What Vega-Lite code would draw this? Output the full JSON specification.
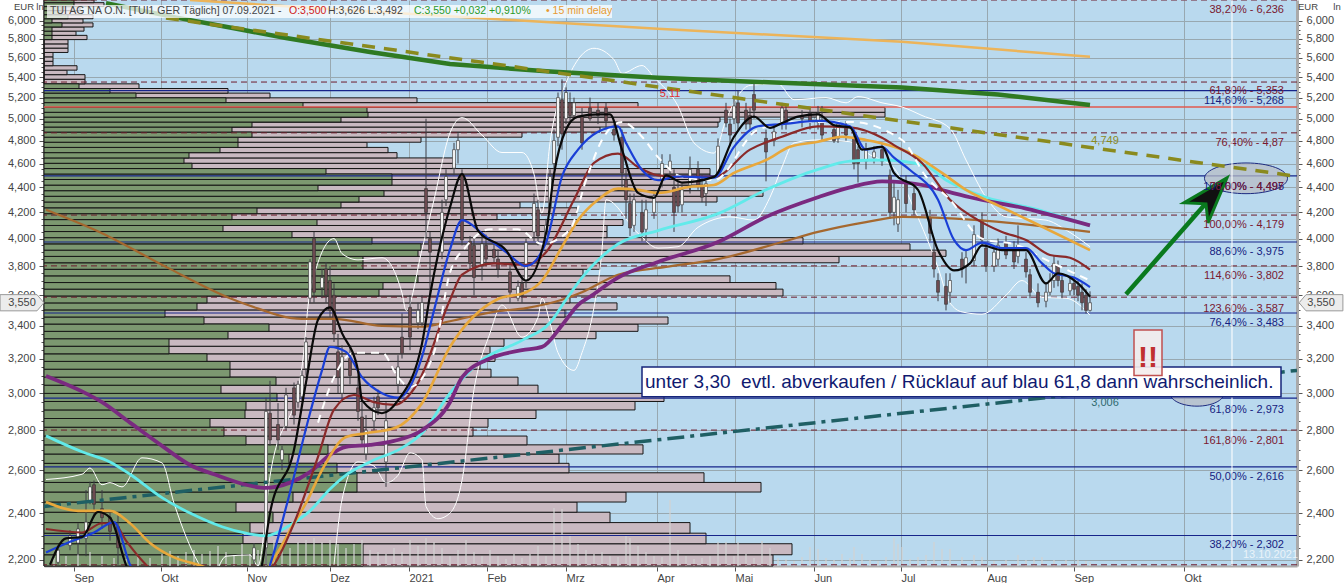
{"$schema":"https://vega.github.io/schema/vega-lite/v6.json","width":1253,"height":566,"autosize":{"type":"none"},"padding":{"left":44,"top":0,"right":47,"bottom":17},"background":"white","view":{"fill":"#b9d9ee","stroke":null},
"config":{"text":{"font":"Liberation Sans"},"axis":{"labelFont":"Liberation Sans"}},
"datasets":{
"profile":[{"lo":2.175,"hi":2.221,"up":319,"tot":729},{"lo":2.221,"hi":2.267,"up":319,"tot":748},{"lo":2.267,"hi":2.312,"up":199,"tot":662},{"lo":2.312,"hi":2.358,"up":206,"tot":646},{"lo":2.358,"hi":2.404,"up":229,"tot":566},{"lo":2.404,"hi":2.45,"up":192,"tot":533},{"lo":2.45,"hi":2.496,"up":249,"tot":582},{"lo":2.496,"hi":2.541,"up":313,"tot":717},{"lo":2.541,"hi":2.587,"up":313,"tot":660},{"lo":2.587,"hi":2.633,"up":293,"tot":525},{"lo":2.633,"hi":2.679,"up":245,"tot":515},{"lo":2.679,"hi":2.725,"up":284,"tot":599},{"lo":2.725,"hi":2.77,"up":202,"tot":483},{"lo":2.77,"hi":2.816,"up":180,"tot":429},{"lo":2.816,"hi":2.862,"up":166,"tot":444},{"lo":2.862,"hi":2.908,"up":201,"tot":492},{"lo":2.908,"hi":2.954,"up":202,"tot":591},{"lo":2.954,"hi":2.999,"up":233,"tot":620},{"lo":2.999,"hi":3.045,"up":177,"tot":494},{"lo":3.045,"hi":3.091,"up":232,"tot":474},{"lo":3.091,"hi":3.137,"up":186,"tot":447},{"lo":3.137,"hi":3.183,"up":186,"tot":436},{"lo":3.183,"hi":3.228,"up":163,"tot":451},{"lo":3.228,"hi":3.274,"up":125,"tot":446},{"lo":3.274,"hi":3.32,"up":125,"tot":460},{"lo":3.32,"hi":3.366,"up":184,"tot":552},{"lo":3.366,"hi":3.412,"up":225,"tot":594},{"lo":3.412,"hi":3.457,"up":160,"tot":624},{"lo":3.457,"hi":3.503,"up":121,"tot":521},{"lo":3.503,"hi":3.549,"up":153,"tot":573},{"lo":3.549,"hi":3.595,"up":163,"tot":526},{"lo":3.595,"hi":3.641,"up":335,"tot":739},{"lo":3.641,"hi":3.686,"up":339,"tot":732},{"lo":3.686,"hi":3.732,"up":374,"tot":686},{"lo":3.732,"hi":3.778,"up":283,"tot":539},{"lo":3.778,"hi":3.824,"up":319,"tot":556},{"lo":3.824,"hi":3.87,"up":319,"tot":795},{"lo":3.87,"hi":3.915,"up":374,"tot":902},{"lo":3.915,"hi":3.961,"up":377,"tot":866},{"lo":3.961,"hi":4.007,"up":328,"tot":759},{"lo":4.007,"hi":4.053,"up":248,"tot":563},{"lo":4.053,"hi":4.099,"up":179,"tot":563},{"lo":4.099,"hi":4.144,"up":273,"tot":579},{"lo":4.144,"hi":4.19,"up":188,"tot":453},{"lo":4.19,"hi":4.236,"up":213,"tot":533},{"lo":4.236,"hi":4.282,"up":297,"tot":476},{"lo":4.282,"hi":4.328,"up":315,"tot":673},{"lo":4.328,"hi":4.373,"up":340,"tot":719},{"lo":4.373,"hi":4.419,"up":274,"tot":646},{"lo":4.419,"hi":4.465,"up":348,"tot":656},{"lo":4.465,"hi":4.511,"up":348,"tot":666},{"lo":4.511,"hi":4.557,"up":282,"tot":666},{"lo":4.557,"hi":4.602,"up":148,"tot":411},{"lo":4.602,"hi":4.648,"up":140,"tot":410},{"lo":4.648,"hi":4.694,"up":145,"tot":353},{"lo":4.694,"hi":4.74,"up":176,"tot":344},{"lo":4.74,"hi":4.786,"up":194,"tot":323},{"lo":4.786,"hi":4.831,"up":194,"tot":377},{"lo":4.831,"hi":4.877,"up":208,"tot":478},{"lo":4.877,"hi":4.923,"up":188,"tot":556},{"lo":4.923,"hi":4.969,"up":208,"tot":674},{"lo":4.969,"hi":5.015,"up":297,"tot":676},{"lo":5.015,"hi":5.06,"up":324,"tot":841},{"lo":5.06,"hi":5.106,"up":323,"tot":841},{"lo":5.106,"hi":5.152,"up":259,"tot":594},{"lo":5.152,"hi":5.198,"up":182,"tot":373},{"lo":5.198,"hi":5.244,"up":92,"tot":226},{"lo":5.244,"hi":5.289,"up":66,"tot":184},{"lo":5.289,"hi":5.335,"up":35,"tot":95},{"lo":5.335,"hi":5.381,"up":0,"tot":41},{"lo":5.381,"hi":5.427,"up":0,"tot":41},{"lo":5.427,"hi":5.473,"up":0,"tot":23},{"lo":5.473,"hi":5.518,"up":0,"tot":33},{"lo":5.518,"hi":5.564,"up":0,"tot":9},{"lo":5.564,"hi":5.61,"up":0,"tot":9},{"lo":5.61,"hi":5.656,"up":0,"tot":9},{"lo":5.656,"hi":5.702,"up":0,"tot":24},{"lo":5.702,"hi":5.747,"up":0,"tot":24},{"lo":5.747,"hi":5.793,"up":0,"tot":24},{"lo":5.793,"hi":5.839,"up":8,"tot":43},{"lo":5.839,"hi":5.885,"up":8,"tot":32},{"lo":5.885,"hi":5.931,"up":8,"tot":40},{"lo":5.931,"hi":5.976,"up":18,"tot":49},{"lo":5.976,"hi":6.022,"up":8,"tot":39},{"lo":6.022,"hi":6.068,"up":24,"tot":49},{"lo":6.068,"hi":6.114,"up":18,"tot":38},{"lo":6.114,"hi":6.16,"up":18,"tot":36},{"lo":6.16,"hi":6.205,"up":30,"tot":60},{"lo":6.205,"hi":6.236,"up":30,"tot":50}],
"volume":[{"n":2,"v":8},{"n":5,"v":10},{"n":8,"v":12},{"n":11,"v":14},{"n":14,"v":10},{"n":17,"v":8},{"n":20,"v":7},{"n":23,"v":9},{"n":26,"v":8},{"n":29,"v":12},{"n":31,"v":15},{"n":33,"v":10},{"n":35,"v":14},{"n":37,"v":16},{"n":39,"v":12},{"n":41,"v":15},{"n":43,"v":20},{"n":45,"v":14},{"n":47,"v":11},{"n":49,"v":22},{"n":51,"v":12},{"n":53,"v":16},{"n":55,"v":28},{"n":57,"v":26},{"n":59,"v":22},{"n":61,"v":18},{"n":63,"v":24},{"n":65,"v":26},{"n":67,"v":28},{"n":69,"v":24},{"n":71,"v":26},{"n":73,"v":22},{"n":75,"v":18},{"n":77,"v":22},{"n":79,"v":26},{"n":81,"v":16},{"n":83,"v":14},{"n":85,"v":12},{"n":87,"v":18},{"n":89,"v":14},{"n":91,"v":26},{"n":93,"v":20},{"n":95,"v":28},{"n":97,"v":24},{"n":99,"v":18},{"n":101,"v":10},{"n":103,"v":16},{"n":105,"v":26},{"n":107,"v":14},{"n":109,"v":10},{"n":111,"v":16},{"n":113,"v":10},{"n":115,"v":7},{"n":117,"v":12},{"n":119,"v":8},{"n":121,"v":12},{"n":123,"v":20},{"n":125,"v":10},{"n":127,"v":58},{"n":129,"v":57},{"n":131,"v":30},{"n":133,"v":22},{"n":135,"v":16},{"n":137,"v":12},{"n":139,"v":14},{"n":141,"v":10},{"n":143,"v":9},{"n":145,"v":30},{"n":146,"v":28},{"n":148,"v":20},{"n":150,"v":14},{"n":152,"v":10},{"n":154,"v":9},{"n":156,"v":66},{"n":158,"v":16},{"n":160,"v":10},{"n":162,"v":7},{"n":164,"v":8},{"n":166,"v":10},{"n":168,"v":24},{"n":170,"v":24},{"n":172,"v":10},{"n":173,"v":24},{"n":175,"v":12},{"n":177,"v":8},{"n":179,"v":25},{"n":181,"v":18},{"n":183,"v":8},{"n":185,"v":7},{"n":187,"v":5},{"n":189,"v":9},{"n":191,"v":19},{"n":193,"v":17},{"n":195,"v":8},{"n":197,"v":6},{"n":199,"v":12},{"n":201,"v":8},{"n":202,"v":19},{"n":204,"v":12},{"n":206,"v":6},{"n":208,"v":5},{"n":210,"v":9},{"n":212,"v":28},{"n":213,"v":22},{"n":214,"v":19},{"n":216,"v":7},{"n":218,"v":9},{"n":220,"v":11},{"n":222,"v":24},{"n":224,"v":17},{"n":226,"v":17},{"n":229,"v":9},{"n":232,"v":11},{"n":234,"v":9},{"n":237,"v":5},{"n":240,"v":6},{"n":243,"v":11},{"n":245,"v":6},{"n":247,"v":9},{"n":249,"v":9},{"n":252,"v":6},{"n":255,"v":6},{"n":258,"v":6},{"n":260,"v":5},{"n":261,"v":4}],
"candles":[{"n":3,"o":2.19,"h":2.26,"l":2.18,"c":2.24},{"n":6,"o":2.26,"h":2.325,"l":2.24,"c":2.3},{"n":8,"o":2.27,"h":2.355,"l":2.22,"c":2.33},{"n":10,"o":2.29,"h":2.505,"l":2.215,"c":2.36},{"n":11,"o":2.45,"h":2.545,"l":2.44,"c":2.52},{"n":12,"o":2.53,"h":2.55,"l":2.39,"c":2.44},{"n":14,"o":2.42,"h":2.505,"l":2.33,"c":2.38},{"n":16,"o":2.38,"h":2.41,"l":2.28,"c":2.32},{"n":18,"o":2.34,"h":2.39,"l":2.18,"c":2.25},{"n":52,"o":2.2,"h":2.27,"l":2.18,"c":2.25},{"n":55,"o":2.25,"h":2.975,"l":2.18,"c":2.9},{"n":56,"o":2.89,"h":3.07,"l":2.72,"c":2.75},{"n":58,"o":2.83,"h":2.945,"l":2.7,"c":2.75},{"n":59,"o":2.65,"h":2.72,"l":2.6,"c":2.7},{"n":60,"o":2.82,"h":3.03,"l":2.8,"c":2.99},{"n":62,"o":3.03,"h":3.06,"l":2.83,"c":2.88},{"n":63,"o":2.95,"h":3.07,"l":2.92,"c":3.05},{"n":64,"o":2.98,"h":3.13,"l":2.96,"c":3.1},{"n":65,"o":3.14,"h":3.33,"l":3.1,"c":3.3},{"n":66,"o":3.58,"h":3.85,"l":3.55,"c":3.83},{"n":67,"o":4.0,"h":4.05,"l":3.55,"c":3.62},{"n":69,"o":3.65,"h":3.78,"l":3.58,"c":3.72},{"n":70,"o":3.78,"h":3.83,"l":3.55,"c":3.6},{"n":71,"o":3.7,"h":3.8,"l":3.45,"c":3.5},{"n":72,"o":3.6,"h":3.68,"l":3.3,"c":3.35},{"n":73,"o":3.24,"h":3.35,"l":3.0,"c":3.09},{"n":74,"o":3.0,"h":3.28,"l":2.95,"c":3.21},{"n":76,"o":3.2,"h":3.28,"l":3.05,"c":3.1},{"n":78,"o":3.03,"h":3.1,"l":2.85,"c":2.9},{"n":79,"o":2.87,"h":2.95,"l":2.72,"c":2.75},{"n":80,"o":2.68,"h":2.88,"l":2.65,"c":2.8},{"n":82,"o":2.85,"h":2.98,"l":2.8,"c":2.92},{"n":83,"o":2.98,"h":3.02,"l":2.88,"c":2.92},{"n":85,"o":2.64,"h":2.95,"l":2.52,"c":2.85},{"n":88,"o":3.05,"h":3.22,"l":3.0,"c":3.15},{"n":89,"o":3.33,"h":3.48,"l":3.2,"c":3.23},{"n":91,"o":3.52,"h":3.6,"l":3.25,"c":3.33},{"n":93,"o":3.42,"h":3.55,"l":3.38,"c":3.5},{"n":94,"o":3.42,"h":3.6,"l":3.4,"c":3.55},{"n":95,"o":4.39,"h":5.0,"l":4.0,"c":4.2},{"n":96,"o":4.0,"h":4.05,"l":3.6,"c":3.9},{"n":99,"o":3.9,"h":4.3,"l":3.85,"c":4.2},{"n":100,"o":4.3,"h":4.55,"l":4.25,"c":4.49},{"n":102,"o":4.56,"h":4.78,"l":4.5,"c":4.72},{"n":103,"o":4.72,"h":4.87,"l":4.6,"c":4.8},{"n":104,"o":4.51,"h":4.55,"l":3.95,"c":3.99},{"n":106,"o":3.98,"h":4.02,"l":3.78,"c":3.82},{"n":107,"o":3.95,"h":4.0,"l":3.6,"c":3.72},{"n":109,"o":3.8,"h":4.05,"l":3.7,"c":3.96},{"n":110,"o":3.95,"h":4.03,"l":3.8,"c":3.85},{"n":112,"o":3.92,"h":3.96,"l":3.82,"c":3.86},{"n":113,"o":3.85,"h":3.92,"l":3.72,"c":3.78},{"n":116,"o":3.76,"h":3.82,"l":3.55,"c":3.62},{"n":118,"o":3.58,"h":3.7,"l":3.56,"c":3.66},{"n":119,"o":3.68,"h":3.72,"l":3.55,"c":3.6},{"n":120,"o":3.7,"h":4.0,"l":3.65,"c":3.97},{"n":122,"o":4.05,"h":4.35,"l":3.98,"c":4.27},{"n":123,"o":4.22,"h":4.3,"l":3.95,"c":4.02},{"n":125,"o":4.0,"h":4.15,"l":3.98,"c":4.1},{"n":126,"o":4.24,"h":4.55,"l":4.2,"c":4.49},{"n":127,"o":4.6,"h":4.9,"l":4.55,"c":4.8},{"n":128,"o":4.83,"h":5.25,"l":4.75,"c":5.2},{"n":129,"o":5.18,"h":5.38,"l":4.72,"c":4.86},{"n":130,"o":5.0,"h":5.3,"l":4.95,"c":5.25},{"n":131,"o":5.15,"h":5.25,"l":4.97,"c":5.03},{"n":132,"o":5.03,"h":5.2,"l":5.0,"c":5.15},{"n":134,"o":5.02,"h":5.1,"l":4.72,"c":4.78},{"n":136,"o":5.1,"h":5.2,"l":4.98,"c":5.0},{"n":138,"o":5.08,"h":5.15,"l":4.95,"c":5.03},{"n":140,"o":5.1,"h":5.15,"l":4.9,"c":4.98},{"n":142,"o":4.9,"h":4.95,"l":4.8,"c":4.85},{"n":144,"o":4.83,"h":4.9,"l":4.4,"c":4.52},{"n":145,"o":4.46,"h":4.55,"l":4.15,"c":4.3},{"n":146,"o":4.27,"h":4.35,"l":4.02,"c":4.08},{"n":147,"o":4.1,"h":4.35,"l":4.05,"c":4.3},{"n":149,"o":4.2,"h":4.3,"l":3.98,"c":4.05},{"n":150,"o":4.07,"h":4.3,"l":3.98,"c":4.22},{"n":152,"o":4.2,"h":4.38,"l":4.15,"c":4.33},{"n":154,"o":4.46,"h":4.68,"l":4.4,"c":4.6},{"n":156,"o":4.55,"h":4.68,"l":4.5,"c":4.62},{"n":157,"o":4.4,"h":4.55,"l":4.05,"c":4.2},{"n":158,"o":4.38,"h":4.45,"l":4.2,"c":4.25},{"n":159,"o":4.26,"h":4.43,"l":4.2,"c":4.38},{"n":161,"o":4.42,"h":4.66,"l":4.35,"c":4.55},{"n":163,"o":4.55,"h":4.62,"l":4.38,"c":4.42},{"n":164,"o":4.42,"h":4.5,"l":4.28,"c":4.32},{"n":165,"o":4.35,"h":4.48,"l":4.25,"c":4.43},{"n":168,"o":4.52,"h":4.82,"l":4.48,"c":4.75},{"n":170,"o":5.08,"h":5.15,"l":4.92,"c":4.96},{"n":171,"o":4.95,"h":5.0,"l":4.75,"c":4.85},{"n":172,"o":5.0,"h":5.2,"l":4.95,"c":5.12},{"n":173,"o":5.15,"h":5.27,"l":4.9,"c":4.96},{"n":175,"o":5.08,"h":5.15,"l":4.9,"c":4.95},{"n":176,"o":5.03,"h":5.1,"l":4.9,"c":4.95},{"n":177,"o":5.23,"h":5.35,"l":5.0,"c":5.08},{"n":180,"o":4.82,"h":4.9,"l":4.45,"c":4.7},{"n":182,"o":4.8,"h":4.95,"l":4.75,"c":4.88},{"n":184,"o":4.95,"h":5.15,"l":4.9,"c":5.1},{"n":185,"o":5.08,"h":5.13,"l":4.9,"c":4.96},{"n":189,"o":5.03,"h":5.08,"l":4.92,"c":5.0},{"n":191,"o":5.05,"h":5.1,"l":4.9,"c":4.97},{"n":193,"o":4.97,"h":5.12,"l":4.9,"c":5.05},{"n":194,"o":4.98,"h":5.12,"l":4.8,"c":4.85},{"n":197,"o":4.9,"h":4.95,"l":4.78,"c":4.8},{"n":198,"o":4.82,"h":4.98,"l":4.78,"c":4.95},{"n":200,"o":4.92,"h":4.98,"l":4.8,"c":4.85},{"n":202,"o":4.83,"h":4.9,"l":4.55,"c":4.6},{"n":203,"o":4.72,"h":4.75,"l":4.44,"c":4.6},{"n":205,"o":4.62,"h":4.78,"l":4.55,"c":4.72},{"n":207,"o":4.65,"h":4.75,"l":4.6,"c":4.7},{"n":209,"o":4.72,"h":4.78,"l":4.58,"c":4.62},{"n":211,"o":4.5,"h":4.55,"l":4.15,"c":4.2},{"n":212,"o":4.2,"h":4.45,"l":4.1,"c":4.32},{"n":213,"o":4.11,"h":4.38,"l":4.05,"c":4.3},{"n":215,"o":4.44,"h":4.5,"l":4.2,"c":4.27},{"n":217,"o":4.35,"h":4.4,"l":4.18,"c":4.22},{"n":221,"o":4.16,"h":4.22,"l":3.98,"c":4.04},{"n":222,"o":3.9,"h":4.0,"l":3.72,"c":3.78},{"n":223,"o":3.7,"h":3.75,"l":3.56,"c":3.62},{"n":225,"o":3.66,"h":3.75,"l":3.5,"c":3.54},{"n":226,"o":3.62,"h":3.75,"l":3.55,"c":3.7},{"n":229,"o":3.85,"h":3.9,"l":3.72,"c":3.78},{"n":230,"o":3.8,"h":3.92,"l":3.68,"c":3.86},{"n":232,"o":3.84,"h":4.1,"l":3.8,"c":4.03},{"n":234,"o":4.14,"h":4.2,"l":3.94,"c":3.99},{"n":235,"o":3.93,"h":3.97,"l":3.76,"c":3.8},{"n":237,"o":3.8,"h":3.95,"l":3.76,"c":3.9},{"n":238,"o":3.85,"h":4.0,"l":3.8,"c":3.95},{"n":240,"o":3.97,"h":4.02,"l":3.85,"c":3.88},{"n":242,"o":3.93,"h":3.98,"l":3.78,"c":3.83},{"n":243,"o":3.87,"h":4.1,"l":3.82,"c":3.95},{"n":245,"o":3.85,"h":3.9,"l":3.72,"c":3.76},{"n":246,"o":3.74,"h":3.78,"l":3.58,"c":3.62},{"n":248,"o":3.62,"h":3.68,"l":3.52,"c":3.55},{"n":250,"o":3.56,"h":3.68,"l":3.52,"c":3.62},{"n":251,"o":3.62,"h":3.75,"l":3.6,"c":3.7},{"n":252,"o":3.7,"h":3.88,"l":3.65,"c":3.82},{"n":253,"o":3.8,"h":3.84,"l":3.66,"c":3.7},{"n":254,"o":3.7,"h":3.75,"l":3.58,"c":3.62},{"n":256,"o":3.63,"h":3.72,"l":3.6,"c":3.68},{"n":257,"o":3.68,"h":3.72,"l":3.6,"c":3.64},{"n":258,"o":3.66,"h":3.7,"l":3.56,"c":3.6},{"n":259,"o":3.62,"h":3.68,"l":3.5,"c":3.55},{"n":260,"o":3.6,"h":3.64,"l":3.48,"c":3.5},{"n":261,"o":3.5,"h":3.626,"l":3.492,"c":3.55}],
"green":[{"n":15,"p":6.2},{"n":32,"p":6.04},{"n":49,"p":5.9},{"n":60,"p":5.81},{"n":81,"p":5.66},{"n":101,"p":5.536},{"n":126,"p":5.458},{"n":153,"p":5.395},{"n":172,"p":5.363},{"n":214,"p":5.3},{"n":238,"p":5.23},{"n":261,"p":5.13}],
"orangelong":[{"n":36,"p":6.236},{"n":63,"p":6.155},{"n":108,"p":6.03},{"n":153,"p":5.91},{"n":214,"p":5.77},{"n":261,"p":5.61}],
"olive":[{"n":30,"p":6.03},{"n":313,"p":4.49}],
"teal":[{"n":-0.5,"p":2.43},{"n":312.75,"p":3.13}],
"cyan":[{"n":0,"p":2.771},{"n":9,"p":2.69},{"n":16,"p":2.64},{"n":21,"p":2.58},{"n":29,"p":2.47},{"n":36,"p":2.4},{"n":44,"p":2.34},{"n":50,"p":2.312},{"n":55,"p":2.3},{"n":61,"p":2.347},{"n":66,"p":2.41},{"n":71,"p":2.51},{"n":75,"p":2.576},{"n":81,"p":2.64},{"n":89,"p":2.71},{"n":94,"p":2.785},{"n":101,"p":3.0},{"n":109,"p":3.19},{"n":119,"p":3.31},{"n":126,"p":3.42},{"n":130,"p":3.57},{"n":134,"p":3.72},{"n":143,"p":3.96},{"n":153,"p":4.06},{"n":168,"p":4.19},{"n":180,"p":4.38},{"n":193,"p":4.55},{"n":201,"p":4.62},{"n":209,"p":4.63},{"n":220,"p":4.58},{"n":225,"p":4.46},{"n":235,"p":4.32},{"n":247,"p":4.23},{"n":261,"p":4.1}],
"purple":[{"n":0,"p":3.098},{"n":9,"p":3.01},{"n":14,"p":2.95},{"n":21,"p":2.84},{"n":29,"p":2.72},{"n":36,"p":2.625},{"n":42,"p":2.58},{"n":50,"p":2.53},{"n":55,"p":2.515},{"n":61,"p":2.54},{"n":66,"p":2.59},{"n":71,"p":2.675},{"n":75,"p":2.715},{"n":81,"p":2.725},{"n":87,"p":2.745},{"n":94,"p":2.8},{"n":101,"p":2.95},{"n":104,"p":3.09},{"n":111,"p":3.2},{"n":119,"p":3.25},{"n":124,"p":3.27},{"n":129,"p":3.405},{"n":133,"p":3.535},{"n":136,"p":3.59},{"n":143,"p":3.72},{"n":153,"p":3.83},{"n":168,"p":3.975},{"n":180,"p":4.165},{"n":193,"p":4.32},{"n":201,"p":4.4},{"n":209,"p":4.45},{"n":220,"p":4.415},{"n":225,"p":4.37},{"n":231,"p":4.32},{"n":245,"p":4.23},{"n":261,"p":4.1}],
"brown":[{"n":0,"p":4.22},{"n":14,"p":4.04},{"n":30,"p":3.795},{"n":46,"p":3.58},{"n":51,"p":3.53},{"n":64,"p":3.445},{"n":72,"p":3.445},{"n":84,"p":3.4},{"n":94,"p":3.395},{"n":101,"p":3.43},{"n":113,"p":3.495},{"n":120,"p":3.515},{"n":129,"p":3.57},{"n":134,"p":3.62},{"n":143,"p":3.74},{"n":155,"p":3.795},{"n":168,"p":3.85},{"n":184,"p":3.975},{"n":193,"p":4.05},{"n":205,"p":4.125},{"n":214,"p":4.165},{"n":233,"p":4.14},{"n":261,"p":4.05}],
"orange":[{"n":0,"p":2.45},{"n":8,"p":2.41},{"n":16,"p":2.41},{"n":21,"p":2.355},{"n":26,"p":2.27},{"n":32,"p":2.21},{"n":38,"p":2.18},{"n":46,"p":2.14},{"n":54,"p":2.14},{"n":56,"p":2.18},{"n":62,"p":2.355},{"n":65,"p":2.445},{"n":69,"p":2.6},{"n":75,"p":2.765},{"n":80,"p":2.785},{"n":87,"p":2.81},{"n":94,"p":2.945},{"n":101,"p":3.27},{"n":113,"p":3.575},{"n":120,"p":3.62},{"n":124,"p":3.7},{"n":129,"p":3.94},{"n":133,"p":4.14},{"n":138,"p":4.3},{"n":143,"p":4.39},{"n":148,"p":4.38},{"n":153,"p":4.355},{"n":161,"p":4.405},{"n":167,"p":4.42},{"n":172,"p":4.52},{"n":180,"p":4.63},{"n":186,"p":4.745},{"n":193,"p":4.79},{"n":199,"p":4.835},{"n":205,"p":4.806},{"n":212,"p":4.745},{"n":217,"p":4.675},{"n":224,"p":4.52},{"n":230,"p":4.38},{"n":237,"p":4.27},{"n":247,"p":4.12},{"n":261,"p":3.915}],
"darkred":[{"n":0,"p":2.33},{"n":9,"p":2.315},{"n":14,"p":2.355},{"n":17,"p":2.355},{"n":20,"p":2.28},{"n":25,"p":2.18},{"n":34,"p":2.08},{"n":48,"p":2.08},{"n":57,"p":2.18},{"n":62,"p":2.355},{"n":68,"p":2.665},{"n":72,"p":2.91},{"n":77,"p":2.99},{"n":82,"p":2.95},{"n":87,"p":2.935},{"n":93,"p":3.06},{"n":101,"p":3.57},{"n":104,"p":3.74},{"n":112,"p":3.82},{"n":120,"p":3.81},{"n":125,"p":3.9},{"n":132,"p":4.3},{"n":137,"p":4.605},{"n":143,"p":4.685},{"n":148,"p":4.57},{"n":153,"p":4.5},{"n":159,"p":4.487},{"n":167,"p":4.487},{"n":176,"p":4.72},{"n":184,"p":4.835},{"n":193,"p":4.93},{"n":201,"p":4.92},{"n":209,"p":4.825},{"n":212,"p":4.76},{"n":219,"p":4.605},{"n":226,"p":4.3},{"n":233,"p":4.14},{"n":239,"p":4.05},{"n":245,"p":3.99},{"n":251,"p":3.88},{"n":256,"p":3.86},{"n":261,"p":3.775}],
"blue":[{"n":0,"p":2.23},{"n":6,"p":2.275},{"n":12,"p":2.315},{"n":17,"p":2.36},{"n":21,"p":2.18},{"n":26,"p":2.05},{"n":51,"p":2.05},{"n":56,"p":2.18},{"n":60,"p":2.425},{"n":66,"p":2.89},{"n":69,"p":3.13},{"n":71,"p":3.27},{"n":75,"p":3.24},{"n":79,"p":3.09},{"n":84,"p":3.0},{"n":88,"p":2.975},{"n":94,"p":3.21},{"n":97,"p":3.5},{"n":101,"p":3.92},{"n":104,"p":4.14},{"n":109,"p":4.04},{"n":111,"p":3.99},{"n":115,"p":3.9},{"n":120,"p":3.8},{"n":125,"p":3.97},{"n":129,"p":4.49},{"n":133,"p":4.72},{"n":138,"p":4.88},{"n":143,"p":4.93},{"n":145,"p":4.78},{"n":149,"p":4.545},{"n":153,"p":4.46},{"n":158,"p":4.49},{"n":167,"p":4.48},{"n":172,"p":4.745},{"n":178,"p":4.93},{"n":184,"p":4.95},{"n":193,"p":4.98},{"n":201,"p":4.93},{"n":205,"p":4.72},{"n":209,"p":4.745},{"n":212,"p":4.65},{"n":216,"p":4.545},{"n":223,"p":4.3},{"n":227,"p":3.99},{"n":230,"p":3.915},{"n":234,"p":3.97},{"n":239,"p":3.93},{"n":245,"p":3.93},{"n":249,"p":3.82},{"n":252,"p":3.75},{"n":257,"p":3.72},{"n":261,"p":3.655}],
"black":[{"n":1,"p":2.18},{"n":5,"p":2.29},{"n":9,"p":2.295},{"n":13,"p":2.405},{"n":16,"p":2.38},{"n":20,"p":2.18},{"n":26,"p":2.0},{"n":50,"p":2.0},{"n":54,"p":2.18},{"n":56,"p":2.4},{"n":62,"p":2.7},{"n":65,"p":3.06},{"n":68,"p":3.44},{"n":71,"p":3.52},{"n":74,"p":3.355},{"n":78,"p":3.13},{"n":79,"p":2.96},{"n":84,"p":2.89},{"n":88,"p":2.96},{"n":94,"p":3.29},{"n":96,"p":3.6},{"n":101,"p":4.24},{"n":104,"p":4.51},{"n":108,"p":4.06},{"n":115,"p":3.915},{"n":120,"p":3.7},{"n":125,"p":4.04},{"n":127,"p":4.51},{"n":130,"p":4.9},{"n":133,"p":5.02},{"n":138,"p":5.04},{"n":141,"p":5.04},{"n":144,"p":4.72},{"n":148,"p":4.355},{"n":152,"p":4.315},{"n":155,"p":4.5},{"n":159,"p":4.44},{"n":167,"p":4.487},{"n":172,"p":4.835},{"n":177,"p":5.02},{"n":181,"p":4.915},{"n":184,"p":4.96},{"n":188,"p":5.02},{"n":193,"p":5.04},{"n":197,"p":4.94},{"n":201,"p":4.92},{"n":204,"p":4.72},{"n":209,"p":4.745},{"n":212,"p":4.52},{"n":218,"p":4.38},{"n":223,"p":3.915},{"n":227,"p":3.77},{"n":231,"p":3.82},{"n":234,"p":3.95},{"n":239,"p":3.915},{"n":245,"p":3.915},{"n":250,"p":3.68},{"n":253,"p":3.75},{"n":258,"p":3.68},{"n":261,"p":3.59}],
"whitedash":[{"n":68,"p":2.84},{"n":72,"p":3.09},{"n":77,"p":3.235},{"n":84,"p":3.235},{"n":88,"p":3.09},{"n":91,"p":3.035},{"n":97,"p":3.235},{"n":101,"p":3.755},{"n":105,"p":3.94},{"n":111,"p":4.07},{"n":118,"p":4.07},{"n":124,"p":3.96},{"n":131,"p":4.07},{"n":135,"p":4.46},{"n":139,"p":4.806},{"n":144,"p":4.97},{"n":149,"p":4.835},{"n":153,"p":4.655},{"n":159,"p":4.487},{"n":167,"p":4.46},{"n":178,"p":4.9},{"n":188,"p":4.97},{"n":201,"p":4.97},{"n":214,"p":4.806},{"n":220,"p":4.49},{"n":226,"p":4.3},{"n":234,"p":4.0},{"n":243,"p":3.95},{"n":249,"p":3.86},{"n":261,"p":3.7}],
"bandup":[{"n":0,"p":2.555},{"n":9,"p":2.58},{"n":11,"p":2.61},{"n":14,"p":2.53},{"n":16,"p":2.54},{"n":19,"p":2.52},{"n":24,"p":2.66},{"n":29,"p":2.635},{"n":32,"p":2.445},{"n":38,"p":2.19},{"n":41,"p":2.12},{"n":45,"p":2.215},{"n":51,"p":2.22},{"n":53,"p":2.175},{"n":56,"p":2.57},{"n":64,"p":3.15},{"n":66,"p":3.62},{"n":72,"p":4.0},{"n":74,"p":3.89},{"n":78,"p":3.845},{"n":84,"p":3.86},{"n":89,"p":3.615},{"n":90,"p":3.5},{"n":94,"p":3.92},{"n":97,"p":4.3},{"n":101,"p":4.87},{"n":104,"p":5.01},{"n":109,"p":4.85},{"n":114,"p":4.695},{"n":119,"p":4.695},{"n":122,"p":4.51},{"n":124,"p":4.195},{"n":126,"p":4.78},{"n":130,"p":5.345},{"n":137,"p":5.7},{"n":142,"p":5.58},{"n":144,"p":5.44},{"n":149,"p":5.52},{"n":152,"p":5.4},{"n":158,"p":5.12},{"n":162,"p":4.78},{"n":167,"p":4.69},{"n":170,"p":4.99},{"n":176,"p":5.32},{"n":183,"p":5.335},{"n":187,"p":5.18},{"n":195,"p":5.2},{"n":200,"p":5.15},{"n":203,"p":5.21},{"n":209,"p":5.15},{"n":214,"p":5.11},{"n":219,"p":5.03},{"n":226,"p":4.91},{"n":230,"p":4.63},{"n":235,"p":4.32},{"n":240,"p":4.165},{"n":250,"p":4.14},{"n":255,"p":4.065},{"n":261,"p":3.94}],
"banddown":[{"n":72,"p":2.18},{"n":74,"p":2.46},{"n":78,"p":2.64},{"n":82,"p":2.62},{"n":85,"p":2.54},{"n":88,"p":2.575},{"n":91,"p":2.685},{"n":94,"p":2.65},{"n":95,"p":2.43},{"n":98,"p":2.375},{"n":101,"p":2.4},{"n":104,"p":2.55},{"n":107,"p":3.02},{"n":111,"p":3.355},{"n":114,"p":3.535},{"n":119,"p":3.33},{"n":123,"p":3.455},{"n":124,"p":3.58},{"n":126,"p":3.42},{"n":128,"p":3.235},{"n":132,"p":3.13},{"n":134,"p":3.235},{"n":137,"p":3.52},{"n":139,"p":3.915},{"n":140,"p":4.3},{"n":148,"p":4.04},{"n":153,"p":3.93},{"n":158,"p":3.94},{"n":163,"p":4.085},{"n":171,"p":4.165},{"n":177,"p":4.14},{"n":181,"p":4.32},{"n":184,"p":4.57},{"n":187,"p":4.78},{"n":193,"p":4.806},{"n":201,"p":4.79},{"n":206,"p":4.675},{"n":212,"p":4.56},{"n":217,"p":4.23},{"n":223,"p":3.79},{"n":226,"p":3.55},{"n":229,"p":3.49},{"n":234,"p":3.475},{"n":240,"p":3.6},{"n":244,"p":3.7},{"n":249,"p":3.585},{"n":255,"p":3.58},{"n":261,"p":3.47}],
"arrow":[{"n":270,"p":3.606},{"n":294,"p":4.42}],
"levelsDashed":[{"p":6.236},{"p":5.353},{"p":4.87},{"p":4.179},{"p":3.802},{"p":3.587},{"p":2.801},{"p":2.18}],
"levelsBlue":[{"p":5.268},{"p":4.495},{"p":3.975},{"p":3.483},{"p":2.973},{"p":2.616},{"p":2.302}],
"levelLabels":[{"t":"38,20% - 6,236","p":6.12,"k":"r"},{"t":"61,80% - 5,353","p":5.26,"k":"r"},{"t":"114,60% - 5,268","p":5.17,"k":"b"},{"t":"76,40% - 4,87","p":4.78,"k":"r"},{"t":"100,00% - 4,495","p":4.4,"k":"b"},{"t":"78,60% - 4,497","p":4.4,"k":"r"},{"t":"100,00% - 4,179","p":4.1,"k":"r"},{"t":"88,60% - 3,975","p":3.9,"k":"b"},{"t":"114,60% - 3,802","p":3.73,"k":"r"},{"t":"123,60% - 3,587","p":3.51,"k":"r"},{"t":"76,40% - 3,483","p":3.42,"k":"b"},{"t":"61,80% - 2,973","p":2.91,"k":"b"},{"t":"161,80% - 2,801","p":2.745,"k":"r"},{"t":"50,00% - 2,616","p":2.565,"k":"b"},{"t":"38,20% - 2,302","p":2.26,"k":"b"}]
},
"layer":[
{"data":{"name":"profile"},"encoding":{"x":{"field":"tot","type":"quantitative","scale":{"domain":[0,1253],"nice":false,"zero":false},"axis":null},"x2":{"datum":0},"y":{"field":"lo","type":"quantitative","scale":{"type":"log","domain":[2.175,6.236],"nice":false,"zero":false},"axis":{"orient":"right","title":null,"grid":false,"values":[2.2,2.25,2.3,2.35,2.4,2.45,2.5,2.55,2.6,2.65,2.7,2.75,2.8,2.85,2.9,2.95,3.0,3.05,3.1,3.15,3.2,3.25,3.3,3.35,3.4,3.45,3.5,3.55,3.6,3.65,3.7,3.75,3.8,3.85,3.9,3.95,4.0,4.05,4.1,4.15,4.2,4.25,4.3,4.35,4.4,4.45,4.5,4.55,4.6,4.65,4.7,4.75,4.8,4.85,4.9,4.95,5.0,5.05,5.1,5.15,5.2,5.25,5.3,5.35,5.4,5.45,5.5,5.55,5.6,5.65,5.7,5.75,5.8,5.85,5.9,5.95,6.0],"labelExpr":"round(datum.value*1000)%200==0?replace(format(datum.value,'.3f'),'.',','):''","labelOverlap":false,"labelBound":false,"labelFontSize":11,"labelColor":"#444444","labelPadding":4,"tickColor":"#555555","tickSize":{"condition":{"test":"round(datum.value*1000)%200==0","value":5},"value":3},"domainColor":"#aaaaaa","domainWidth":3}},"y2":{"field":"hi"}},
"layer":[{"mark":{"type":"rect","fill":"#c9b9c1","stroke":"#161616","strokeWidth":1}},{"mark":{"type":"rect","fill":"#7c9870","stroke":"#161616","strokeWidth":1},"encoding":{"x":{"field":"up","type":"quantitative"}}}]},
{"data":{"name":"volume"},"mark":{"type":"bar","size":2,"color":"#d2d2d2","opacity":0.6},"encoding":{"x":{"field":"n","type":"quantitative","scale":{"domain":[-0.5,312.75],"nice":false,"zero":false,"padding":0},"axis":null},"y":{"field":"v","type":"quantitative","scale":{"domain":[0,566],"nice":false},"axis":null}}},
{"encoding":{"x":{"field":"n","type":"quantitative","scale":{"domain":[-0.5,312.75],"nice":false,"zero":false,"padding":0},"axis":{"title":null,"values":[7,28.75,50.25,71,90.75,110.25,130,152.75,172.25,192,213.75,235.25,257,284.5],"labelExpr":"['Sep','Okt','Nov','Dez','2021','Feb','Mrz','Apr','Mai','Jun','Jul','Aug','Sep','Okt'][indexof([7,28.75,50.25,71,90.75,110.25,130,152.75,172.25,192,213.75,235.25,257,284.5],datum.value)]","labelAlign":"left","labelFontSize":11,"labelColor":"#444444","labelPadding":1,"labelOverlap":false,"labelBound":false,"tickSize":5,"tickColor":"#555555","grid":true,"gridColor":"#98a8b0","domainColor":"#aaaaaa","domainWidth":2}},"y":{"field":"p","type":"quantitative","scale":{"type":"log","domain":[2.175,6.236],"nice":false,"zero":false},"axis":{"orient":"left","title":null,"values":[2.2,2.25,2.3,2.35,2.4,2.45,2.5,2.55,2.6,2.65,2.7,2.75,2.8,2.85,2.9,2.95,3.0,3.05,3.1,3.15,3.2,3.25,3.3,3.35,3.4,3.45,3.5,3.55,3.6,3.65,3.7,3.75,3.8,3.85,3.9,3.95,4.0,4.05,4.1,4.15,4.2,4.25,4.3,4.35,4.4,4.45,4.5,4.55,4.6,4.65,4.7,4.75,4.8,4.85,4.9,4.95,5.0,5.05,5.1,5.15,5.2,5.25,5.3,5.35,5.4,5.45,5.5,5.55,5.6,5.65,5.7,5.75,5.8,5.85,5.9,5.95,6.0],"labelExpr":"round(datum.value*1000)%200==0?replace(format(datum.value,'.3f'),'.',','):''","labelOverlap":false,"labelBound":false,"labelFontSize":11,"labelColor":"#444444","labelPadding":4,"tickColor":"#555555","tickSize":{"condition":{"test":"round(datum.value*1000)%200==0","value":5},"value":3},"domain":false,"grid":true,"gridColor":"#98a8b0","gridOpacity":{"condition":{"test":"round(datum.value*1000)%200==0","value":1},"value":0}}}},
"layer":[
{"data":{"name":"levelsDashed"},"mark":{"type":"rule","color":"#6e1c2c","strokeWidth":1,"strokeDash":[6,4]},"encoding":{"x":null}},
{"data":{"name":"levelsBlue"},"mark":{"type":"rule","color":"#16248a","strokeWidth":1.2},"encoding":{"x":null}},
{"data":{"values":[{"p":5.11}]},"mark":{"type":"rule","color":"#e2584f","strokeWidth":1.5},"encoding":{"x":null}},
{"data":{"name":"bandup"},"mark":{"type":"line","color":"white","strokeWidth":1,"interpolate":"monotone","clip":true}},
{"data":{"name":"banddown"},"mark":{"type":"line","color":"white","strokeWidth":1,"interpolate":"monotone","clip":true}},
{"data":{"name":"candles"},"mark":{"type":"rule","color":"#3c3c44","strokeWidth":1,"clip":true},"encoding":{"y":{"field":"l","type":"quantitative"},"y2":{"field":"h"}}},
{"data":{"name":"candles"},"mark":{"type":"bar","size":3,"stroke":"#333333","strokeWidth":0.6,"clip":true},"encoding":{"y":{"field":"o","type":"quantitative"},"y2":{"field":"c"},"color":{"condition":{"test":"datum.c>=datum.o","value":"#f2f2f2"},"value":"#6d4a50"}}},
{"data":{"values":[{"n":300,"p":4.475}]},"mark":{"type":"point","shape":"M-1,0 A1,0.37 0 1 1 1,0 A1,0.37 0 1 1 -1,0 Z","size":6889,"filled":true,"fill":"#b8bcc6","fillOpacity":0.75,"stroke":"#1c2a80","strokeWidth":1,"opacity":1}},
{"data":{"values":[{"n":287.75,"p":3.0}]},"mark":{"type":"point","shape":"M-1,0 A1,0.48 0 1 1 1,0 A1,0.48 0 1 1 -1,0 Z","size":2916,"filled":true,"fill":"#b8bcc6","fillOpacity":0.75,"stroke":"#1c2a80","strokeWidth":1,"opacity":1}},
{"data":{"name":"orangelong"},"mark":{"type":"line","color":"#ecb45a","strokeWidth":2.5,"clip":true}},
{"data":{"name":"green"},"mark":{"type":"line","color":"#2f7a22","strokeWidth":4.5,"clip":true}},
{"data":{"name":"olive"},"mark":{"type":"line","color":"#8a8a1e","strokeWidth":3.5,"strokeDash":[13,9],"clip":true}},
{"data":{"name":"teal"},"mark":{"type":"line","color":"#1f5f64","strokeWidth":3.5,"strokeDash":[17,6,4,6],"clip":true}},
{"data":{"name":"brown"},"mark":{"type":"line","color":"#a5682f","strokeWidth":2.2,"interpolate":"monotone","clip":true}},
{"data":{"name":"cyan"},"mark":{"type":"line","color":"#62eaea","strokeWidth":2.8,"interpolate":"monotone","clip":true}},
{"data":{"name":"purple"},"mark":{"type":"line","color":"#7a2a80","strokeWidth":3.8,"interpolate":"monotone","clip":true}},
{"data":{"name":"orange"},"mark":{"type":"line","color":"#e8a83c","strokeWidth":2.6,"interpolate":"monotone","clip":true}},
{"data":{"name":"darkred"},"mark":{"type":"line","color":"#8a2a2a","strokeWidth":2.2,"interpolate":"monotone","clip":true}},
{"data":{"name":"whitedash"},"mark":{"type":"line","color":"white","strokeWidth":2,"strokeDash":[8,6],"interpolate":"monotone","clip":true}},
{"data":{"name":"blue"},"mark":{"type":"line","color":"#1a3fd6","strokeWidth":2.2,"interpolate":"monotone","clip":true}},
{"data":{"name":"black"},"mark":{"type":"line","color":"#0a0a0a","strokeWidth":2.2,"interpolate":"monotone","clip":true}},
{"data":{"name":"arrow"},"mark":{"type":"line","color":"#0a7a1e","strokeWidth":4.5}},
{"data":{"values":[{"n":295.25,"p":4.479}]},"mark":{"type":"point","shape":"M0,0 L-.86,.5 L-.42,.52 L-.38,.9 Z","size":10000,"filled":true,"fill":"#111111","stroke":"#0a7a1e","strokeWidth":3,"opacity":1}},
{"data":{"name":"levelLabels"},"transform":[{"calculate":"309.5","as":"n"}],"mark":{"type":"text","align":"right","fontSize":11},"encoding":{"text":{"field":"t"},"color":{"condition":{"test":"datum.k=='b'","value":"#161c80"},"value":"#7a1830"}}},
{"data":{"values":[{"n":296.5}]},"mark":{"type":"rule","color":"#ffffff","strokeWidth":1.2,"opacity":0.9},"encoding":{"y":null}},
{"data":{"values":[{"n":156,"p":5.24,"t":"5,11"}]},"mark":{"type":"text","color":"#e03030","fontSize":11},"encoding":{"text":{"field":"t"}}},
{"data":{"values":[{"n":264.75,"p":4.8,"t":"4,749"}]},"mark":{"type":"text","color":"#8a8a1e","fontSize":11},"encoding":{"text":{"field":"t"}}},
{"data":{"values":[{"n":264.75,"p":2.945,"t":"3,006"}]},"mark":{"type":"text","color":"#2f6a70","fontSize":11},"encoding":{"text":{"field":"t"}}},
{"data":{"values":[{"n":299.25,"p":2.22,"t":"13.10.2021"}]},"mark":{"type":"text","color":"white","opacity":0.7,"align":"left","fontSize":11},"encoding":{"text":{"field":"t"}}},
{"data":{"values":[{"n":149,"n2":308.75,"p":3.15,"p2":2.98}]},"mark":{"type":"rect","fill":"white","stroke":"#16247a","strokeWidth":1.5},"encoding":{"x2":{"field":"n2"},"y2":{"field":"p2"}}},
{"data":{"values":[{"n":149.75,"p":3.063,"t":"unter 3,30 \u00a0evtl. abverkaufen / Rücklauf auf blau 61,8 dann wahrscheinlich."}]},"mark":{"type":"text","align":"left","fontSize":19,"color":"#101a70"},"encoding":{"text":{"field":"t"}}},
{"data":{"values":[{"n":272,"n2":279,"p":3.375,"p2":3.1}]},"mark":{"type":"rect","fill":"#f4ecec","fillOpacity":0.9,"stroke":"#c05050","strokeWidth":1.5},"encoding":{"x2":{"field":"n2"},"y2":{"field":"p2"}}},
{"data":{"values":[{"n":275.5,"p":3.203,"t":"!!"}]},"mark":{"type":"text","fontSize":30,"fontWeight":"bold","color":"#c03030"},"encoding":{"text":{"field":"t"}}},
{"data":{"values":[{"n":0.25,"n2":141.5,"p":6.178,"p2":6.03}]},"mark":{"type":"rect","fill":"white","fillOpacity":0.75},"encoding":{"x2":{"field":"n2"},"y2":{"field":"p2"}}},
{"data":{"values":[{"n":1,"p":6.108,"t":"TUI AG NA O.N. [TUI1 GER Täglich] 07.09.2021 -","k":"#444444"},{"n":60.75,"p":6.108,"t":"O:3,500","k":"#d02020"},{"n":70.5,"p":6.108,"t":"H:3,626 L:3,492","k":"#444444"},{"n":92,"p":6.108,"t":"C:3,550 +0,032 +0,910%","k":"#2a9a2a"},{"n":125,"p":6.108,"t":"• 15 min delay","k":"#e89a30"}]},"mark":{"type":"text","align":"left","fontSize":10.5},"encoding":{"text":{"field":"t"},"color":{"field":"k","type":"nominal","scale":null}}},
{"data":{"values":[{"n":-6,"p":3.55}]},"mark":{"type":"point","shape":"M-.73,-.27 L.5,-.27 L.73,0 L.5,.27 L-.73,.27 Z","size":3600,"filled":true,"fill":"#ececec","stroke":"#999999","strokeWidth":1,"opacity":1,"clip":false}},
{"data":{"values":[{"n":318.75,"p":3.55}]},"mark":{"type":"point","shape":"M.73,-.27 L-.5,-.27 L-.73,0 L-.5,.27 L.73,.27 Z","size":3600,"filled":true,"fill":"#ececec","stroke":"#999999","strokeWidth":1,"opacity":1,"clip":false}},
{"data":{"values":[{"n":-6,"p":3.55,"t":"3,550"},{"n":318.75,"p":3.55,"t":"3,550"}]},"mark":{"type":"text","fontSize":11,"color":"#444444","clip":false},"encoding":{"text":{"field":"t"}}},
{"data":{"values":[{"n":-5.5,"p":6.15,"t":"EUR"},{"n":315.5,"p":6.15,"t":"EUR"},{"n":-1.5,"p":6.16,"t":"ln"},{"n":322.75,"p":6.16,"t":"ln"}]},"mark":{"type":"text","fontSize":9.5,"color":"#444444","clip":false},"encoding":{"text":{"field":"t"}}}
]}
],
"resolve":{"scale":{"x":"independent","y":"independent"},"axis":{"x":"independent","y":"independent"}}}
